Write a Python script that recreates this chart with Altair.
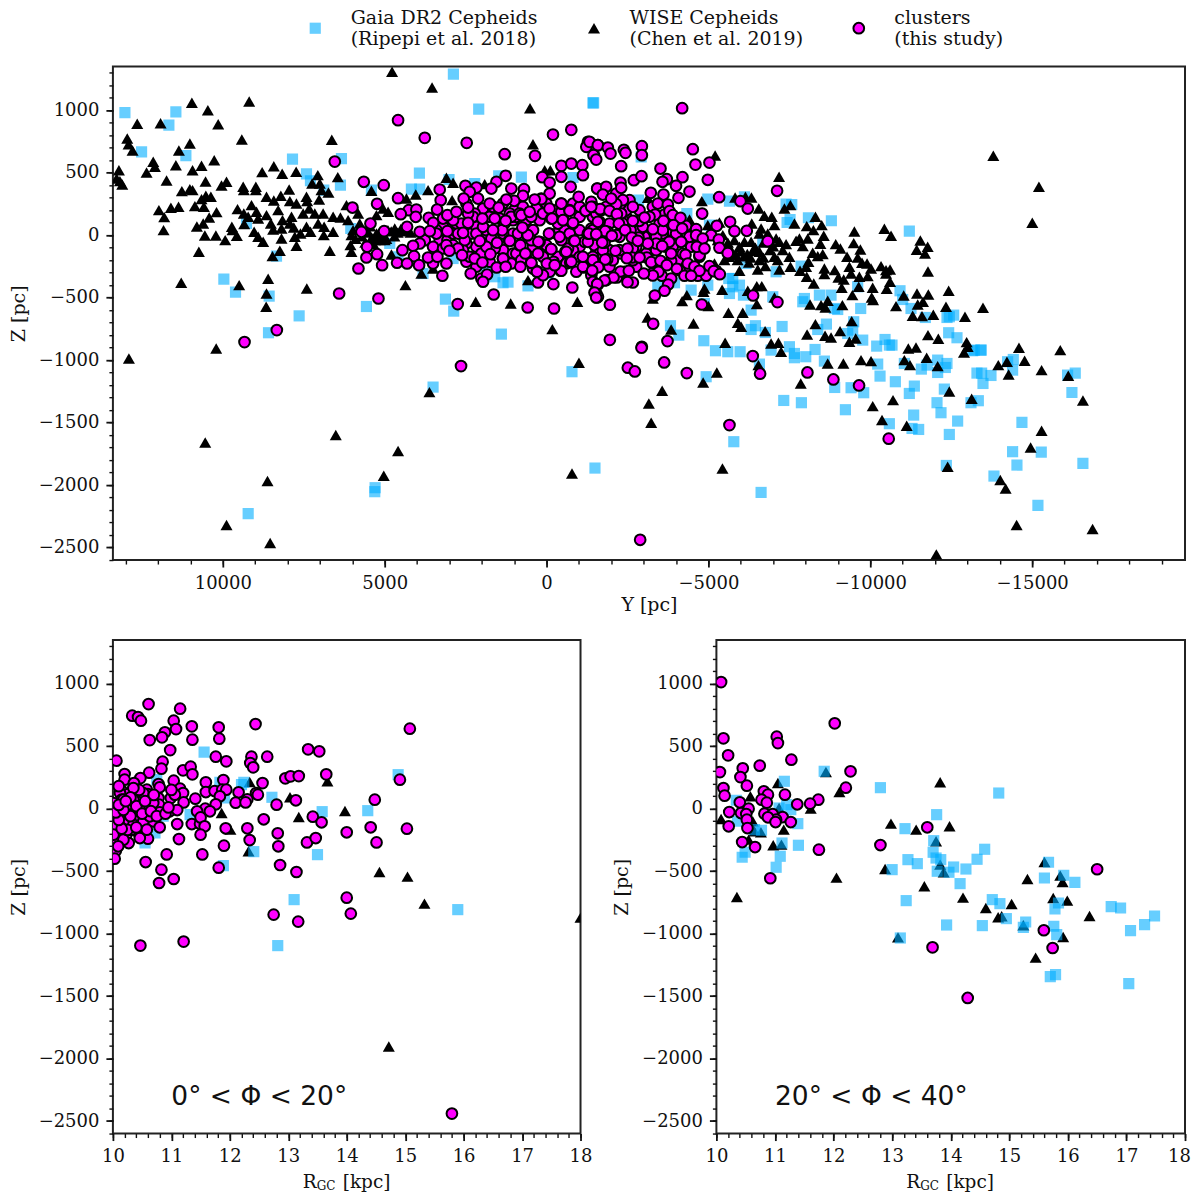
import altair as alt
import pandas as pd

# ---- top panel: (Y [pc], Z [pc]) ----
gaia_top = [(2878,1288),(2096,1008),(-1454,1059),(13024,981),(11450,987),(11666,880),(12510,667),(11141,637),(7848,608),(6336,613),(7416,491),(7293,435),(6367,400),(6881,360),(5410,360),(3928,496),(4175,368),(3918,368),(3012,445),(1479,475),(779,464),(-816,461),(2220,413),(9268,93),(6048,53),(4844,-67),(4587,-173),(8342,-168),(9968,-352),(9608,-456),(8569,-488),(7643,-646),(5564,-571),(3125,-512),(2868,-608),(1345,-381),(1191,-376),(1602,-333),(574,-406),(1860,-293),(-45,-307),(3815,-307),(2888,-187),(8589,-781),(1396,-792),(3506,-1216),(5296,-2021),(5307,-2053),(9217,-2229),(-785,-1093),(-1495,-1864),
(-1430,1059),(-2922,627),(-6112,307),(-4980,288),(-2840,280),(-5649,272),(-4332,173),(-7398,248),(-7573,245),(-7521,125),(-7429,101),(-8088,139),(-8797,115),(-11205,32),(-5031,80),(-6678,-53),(-7090,-293),(-7861,-248),(-6163,-227),(-5628,-347),(-5751,-347),(-5958,-400),(-5751,-413),(-4980,-400),(-5649,-467),(-4465,-440),(-6081,-480),(-3951,-381),(-3436,-413),(-4877,-547),(-6987,-493),(-7964,-507),(-7913,-533),(-8427,-480),(-8787,-480),(-8890,-587),(-8993,-595),(-9703,-587),(-9610,-413),(-10917,-445),(-10999,-515),(-11257,-587),(-11700,-659),(-12368,-659),(-12440,-653),(-12574,-640),(-6318,-600),(-6452,-725),(-6318,-755),(-6760,-779),(-7275,-731),(-3827,-725),(-4085,-800),(-4857,-845),(-8376,-755),(-8643,-712),(-9487,-693),(-9456,-760),(-9302,-787),(-9765,-840),(-10197,-888),(-10454,-835),(-10670,-880),(-10588,-880),(-12420,-781),(-12677,-821),(-13417,-920),(-13212,-920),(-5217,-925),(-5597,-933),(-5978,-933),(-7501,-893),(-8293,-915),(-7655,-947),
(-7655,-981),(-8005,-973),(-6935,-920),(-8581,-1008),(-6575,-1032),(-4929,-1133),(-7326,-1323),(-7871,-1341),(-8900,-1219),(-9405,-1221),(-9796,-1261),(-9230,-1397),(-10300,-1128),(-10228,-1032),(-10773,-1173),(-10588,-1509),(-11205,-1267),(-11360,-1208),(-11339,-1440),(-11288,-1547),(-11493,-1555),(-11576,-1072),(-11751,-1040),(-11051,-1027),(-12080,-1000),(-12080,-1099),(-12317,-1059),(-12368,-1027),(-12286,-1232),(-12060,-1341),(-12183,-1421),(-12697,-1488),(-12440,-1595),(-12348,-1843),(-13109,-1341),(-13336,-1325),(-13480,-1187),(-13294,-1104),(-13438,-1104),(-13727,-1123),(-13161,-925),(-13418,-920),(-14241,-1013),(-14395,-1080),(-14416,-995),(-14683,-1499),(-14395,-1733),(-14529,-1840),(-13819,-1928),(-15177,-2163),(-15280,-1736),(-16566,-1827),(-16227,-1259),(-16330,-1104),(-16093,-1120),(-5783,-1653),(-6626,-2059)]

wise_top = [(4772,1307),(3537,1181),(10956,1059),(10462,1000),(9186,1069),(12644,891),(11923,896),(10143,888),(512,1016),(420,728),(12952,773),(12911,728),(12788,677),(9413,765),(6634,763),(11018,733),(11357,677),(12150,587),(12098,547),(11450,560),(10658,555),(10266,600),(10935,520),(13210,520),(12355,501),(13281,453),(13179,432),(13106,405),(11738,437),(10534,429),(11265,352),(11018,368),(10935,360),(10040,397),(9886,427),(8785,504),(8425,552),(8167,491),(7735,507),(7066,480),(6449,464),(9371,387),(9350,360),(8980,387),(8980,360),(7951,365),(7005,413),(6953,360),(6737,341),(7241,413),(8651,307),(8208,315),(8425,277),(7930,272),(7726,253),(7416,307),(7396,272),(7025,285),(10524,315),(10369,307),(10658,288),(10863,232),(10586,227),(11368,227),(11604,219),(11975,200),(11810,144),(11831,40),(10194,184),(10421,141),(10802,69),(10606,93),(9721,67),(9701,40),(10555,-3),(10215,-3),(9927,-40),(9567,-5),(10740,-133),(11285,-381),(9495,-400),(8600,-349),(8651,-467),(8661,-573),(7406,-427),(4360,-400),(2189,-533),(1108,-547),(-950,-533),(574,-360),(9546,208),(9351,173),(9114,240),(8960,187),(9217,147),(8908,133),(9340,88),(8651,160),(8517,93),(8291,200),(8157,120),(7879,147),(7930,93),(7520,173),(7334,213),(7159,173),(6902,173),(6593,147),(6367,141),(6130,120),(8188,53),(7807,61),(8445,45),(7416,67),(7056,93),(6871,67),(6593,27),(9032,27),(8908,-13),(8754,-53),(8188,-27),(7776,-13),(7602,13),(7293,27),(6882,0),(7725,-85),(8239,-125),(8466,-168),(6696,-125),(6027,-133),(6058,-80),(6027,0),(5976,40),(5820,173),(6181,240),(5410,355),(5770,93),(5255,13),(5153,-40),(5000,-40),(5255,160),(5049,213),(4895,187),(4792,-155),(4690,53),(4329,293),(4041,325),(3660,360),(3094,459),(2888,419),(2919,280),(1911,408),(3506,-267),(3866,-307),(58,520),(-116,520),
(5500,20),(5400,-20),(5300,-40),(5200,10),(5100,0),(4950,-30),(4800,30),(4600,20),(4500,50),(4400,30),(4300,50),(4200,20),(5700,-10),(5900,-30),(5600,-60),(5450,70),(5350,-70),(4900,40),(4700,-10),
(-5500,-110),(-5600,-60),(-5700,-120),(-5800,-40),(-6000,-130),(-6200,-150),(-6300,-180),(-6450,-100),(-6700,-60),(-6900,-120),(-7000,-90),(-5900,-200),(-6100,-170),(-6250,-220),(-6700,-180),
(12901,-987),(10205,-907),(10544,-1659),(6511,-1600),(4587,-1728),(5029,-1925),(8620,-1968),(9886,-2320),(8538,-2464),(3619,-1256),(-1000,-1021),(-785,-1907),(-178,-752),
(-5206,637),(-13799,635),(-15208,387),(-15003,99),(-7182,467),(-3128,299),(-4795,272),(-5824,301),(-6143,307),(-6328,301),(-6554,213),(-7347,213),(-7532,240),(-6729,155),(-6956,147),(-7038,80),(-8304,147),(-8499,80),(-8036,72),(-7655,93),(-8242,40),(-8561,-5),(-8067,-27),(-7810,-27),(-7707,-45),(-7913,-88),(-8458,-69),(-8931,-72),(-9075,-107),(-9507,29),(-9487,-64),(-9693,-115),(-9281,-173),(-10434,51),(-10640,-5),(-11545,-43),(-11771,-93),(-11432,-117),(-11689,-147),(-11781,-291),(-8221,-141),(-8376,-168),(-8530,-152),(-9610,-179),(-9744,-221),(-9899,-227),(-10022,-267),(-10331,-248),(-10485,-280),(-10609,-275),(-10485,-307),(-9353,-253),(-9404,-307),(-9662,-333),(-9919,-328),(-8900,-280),(-9014,-339),(-9178,-355),(-8581,-267),(-8581,-312),(-8088,-213),(-8016,-253),(-7830,-285),(-8036,-333),(-7501,-173),(-7532,-253),(-7192,-275),(-7141,-200),(-7038,-173),(-6760,-248),(-6523,-275),(-6575,-200),(-6575,-133),(-6369,-125),(-6112,-53),(-6318,-53),(-6575,13),(-6626,53),(-6832,13),(-7090,-27),(-7192,-53),(-7398,-72),(-7295,-120),(-5958,-93),(-5855,-160),(-5649,-173),(-5494,-200),(-5186,-227),(-5289,-40),(-5443,0),(-5340,101),(-6338,93),(-4980,80),(-4414,125),(-5958,-285),(-5422,-437),(-4877,-427),(-4846,-453),(-4332,-480),(-4188,-528),(-3282,-507),(-5000,-568),(-6215,-445),(-6493,-408),(-6647,-408),(-6493,-552),(-5618,-621),(-6060,-621),(-7038,-499),(-4538,-707),(-3117,-659),(-3848,-755),(-5906,-701),(-6009,-733),(-6750,-768),(-5515,-861),(-8252,-387),(-8139,-555),(-8478,-560),(-8612,-579),(-8684,-525),(-9137,-560),(-9116,-421),(-9445,-480),(-9641,-413),(-10073,-421),(-10043,-499),(-10084,-520),(-10506,-429),(-10609,-373),(-10794,-568),(-11031,-483),(-11442,-467),(-11792,-475),(-12420,-445),(-11463,-555),(-11627,-533),(-12337,-573),(-13480,-581),(-11308,-645),(-11596,-648),(-11946,-637),(-12924,-653),(-9425,-688),(-8304,-712),(-9065,-768),(-8047,-795),(-8602,-805),(-8787,-819),(-9353,-853),(-9548,-827),(-6935,-867),(-7161,-861),(-11781,-800),(-12100,-829),(-12975,-856),(-13006,-893),
(-7244,-933),(-11174,-907),(-11411,-899),(-12893,-939),(-14591,-901),(-15867,-920),(-11740,-981),(-11051,-1000),(-11226,-1040),(-12080,-1048),(-9713,-1000),(-10022,-1008),(-8684,-1027),(-9168,-1027),(-13953,-1040),(-14220,-1013),(-14766,-1005),(-14272,-1115),(-15290,-1080),(-16114,-1125),(-16567,-1323),(-13130,-1309),(-12440,-1251),(-10701,-1320),(-10074,-1368),(-10361,-1480),(-11123,-1525),(-15290,-1565),(-14951,-1699),(-12389,-1853),(-14014,-1960),(-14179,-2027),(-14519,-2320),(-16865,-2352),(-12039,-2555),(-7851,-1187),(-5433,-1867),(-4836,-1179),(-5258,-1099),(-3570,-1245),(-3159,-1347),(-3231,-1501),(-6544,-1040)]

clusters_top = [(3300,-40),(3060,-40),(3763,-40),(2322,13),(1860,13),(1037,13),(418,40),(1037,120),(214,120),(418,-93),(-310,13),(-1021,40),(-1021,-93),(-1536,-40),(-1536,120),(-310,200),(1962,213),(2785,93),(3197,67),(2169,-93),(2477,-67),(1345,-120),(1037,-147),(1757,147),(316,213),(111,-173),(-816,-120),(-559,40),(2580,-120),(3506,-93),(832,227),(-816,253),(-1433,147),
(2632,93),(2220,173),(1860,40),(1448,133),(933,147),(625,120),(110,173),(-353,93),(-1022,147),(-1382,53),(3403,40),(3197,133),(2889,13),(2528,-40),(2168,67),(1705,-27),(1396,40),(882,13),(470,-40),(7,-80),(-456,-40),(-713,13),(-1176,-53),(-1536,-133),(3197,-107),(2889,-80),(2014,-147),(1602,-107),(1088,-227),(625,-187),(265,-147),(-353,-173),(-661,-107),(-1022,-173),(-1331,-240),(2477,-213),(2168,-253),(1757,-213),(933,-147),(418,-267),(-96,-293),(-610,-227),(-919,-293),(-1382,-320),(2477,253),(1654,227),(1000,200),(731,227),(8,253),(-456,187),(-1022,227),(-1382,267),
(-1430,147),(-1687,67),(-1893,-13),(-1481,-80),(-1636,-147),(-1944,-120),(-2356,40),(-2562,67),(-2768,-93),(-3025,-13),(-3282,-120),(-3488,-227),(-2768,-253),(-2305,-147),(-1944,-253),(-3797,40),(-4054,-200),(-4466,-93),(-4723,-173),(-3591,13),(-3848,147),(-2459,147),(-2871,200),(-2150,333),(-2562,280),(-3282,227),
(-1842,227),(-2459,200),(-1944,93),(-1430,40),(-1739,-120),(-2253,-13),(-2871,40),(-3385,-13),(-3694,-93),(-4105,-40),(-3488,93),(-4002,13),(-4414,-13),(-3076,-147),(-2665,-200),(-2047,-200),(-1430,-173),(-3385,-120),(-2562,-147),(-2973,67),(-2356,120),(-1533,173),
(3403,13),(2889,120),(2271,147),(2734,13),(2168,13),(1962,67),(3094,-80),(2734,-107),(2374,-173),(1860,-93),(1345,13),(1138,173),(1345,253),(1757,253),(2424,173),(3918,-67),(3506,-227),
(1297,93),(1091,147),(834,173),(473,147),(165,293),(-92,213),(-453,253),(-710,200),(-1204,195),(-1636,107),(-1687,200),(-2274,248),(-2305,173),(-2356,93),(-2871,115),(834,-80),(597,0),(216,-53),(-144,133),(-92,13),(-525,120),(-813,93),(-833,-45),(-401,-13),(-144,-112),(-576,-133),(648,-147),(1163,-45),(1369,40),(1348,-187),(782,-200),(473,-221),(298,-288),(-216,-213),(-730,-219),(-432,-285),(-1152,-259),(-1430,-280),(-1276,-53),(-1636,0),(-1893,27),(-1790,-61),(-1276,13),(-2150,0),(-2593,40),(-2840,-19),(-2253,-120),(-1873,-192),(-2665,-107),(-2644,-179),(-3097,-179),(-3385,-67),(-3591,40),(-3642,165),(-3951,115),(-4311,75),(-4620,48),(-3900,-88),(-4157,-53),(-4208,-147),(-4723,-160),(-5083,0),(-5320,-35),(-5031,-248),(-5238,-285),(-4671,-325),(-4414,-267),(-4929,-325),(-4105,-280),(-3848,-205),(-3539,-219),(-3262,-307),(-3560,-325),(-3848,-347),(-2408,-293),(-2665,-379),(-2171,-339),(-1842,-360),(-1585,-395),(-1554,-499),
(4587,920),(3763,779),(2467,739),(1294,648),(357,635),(-198,805),(-764,843),(-1279,747),(-1227,707),(-1587,720),(-1464,640),(-456,555),(-764,573),(-1104,560),(-1124,480),(-456,467),(131,464),(1263,475),(1549,427),(1705,373),(2508,395),(2168,381),(2374,347),(3300,365),(5029,400),(5646,427),(6542,589),(-95,421),(-744,387),(-1567,373),(1088,373),(697,368),(728,315),(-95,333),(162,288),(368,285),(-456,253),(-991,307),(1000,275),(1243,285),(2117,293),(2560,293),(3270,280),(4587,296),(5235,251),(5996,221),(4257,200),(4021,205),(4504,168),(4041,147),(5440,93),(5718,27),(5019,32),(4309,67),(5543,-93),(5564,-179),(5235,-152),(5080,-240),(5811,-267),(6407,-467),(5193,-507),(4453,-120),(4124,-85),(4093,-168),(4617,-221),(4309,-227),(3939,-240),(3660,-179),(3372,-173),(3094,-227),(3218,-325),(2343,-307),(2014,-347),(1838,-315),(1963,-373),(1633,-475),(2745,-552),(584,-579),(-230,-587),(-795,-419),(-210,-392),(265,-379),(111,-320),(296,-293),(-456,-285),(-765,-213),(-1124,-253),(-1433,-373),(-1567,-392),(-1537,-467),(-1587,-493),(8332,-760),(9330,-856),(2642,-1048),
(3382,205),(3064,160),(2785,187),(2424,221),(1983,133),(1603,133),(1478,221),(1263,115),(780,160),(523,187),(-168,133),(-508,120),(-712,195),(-1206,195),(-1433,227),(3640,139),(3503,99),(3918,27),(3609,32),(3064,32),(2580,19),(2424,99),(1654,40),(2065,-46),(1530,-61),(1138,-46),(809,-80),(583,0),(748,61),(254,-53),(-75,13),(-143,-112),(-610,-133),(-867,-46),(-816,99),(-1309,13),(3002,-125),(2611,-160),(2220,-187),(1736,-152),(1345,-187),(1983,-219),(1540,-259),(1263,-253),(809,-253),(470,-221),(655,-147),(-8,-227),(-250,-240),(-1124,-173),(-1433,-200),
(-4188,1016),(-1327,747),(-1584,720),(-1893,701),(-1975,653),(-2387,683),(-2438,659),(-2943,712),(-2943,640),(-1450,640),(-1533,605),(-2305,552),(-4517,688),(-4599,565),(-5031,581),(-3519,533),(-2696,440),(-2932,472),(-3714,448),(-3581,427),(-4198,464),(-4980,443),(-2284,421),(-2305,379),(-1564,373),(-1841,387),(-1739,325),(-3999,395),(-4414,349),(-4074,299),(-3611,325),(-3220,339),(-5330,304),(-7120,355),(-5988,272),(-6215,213),(-3436,253),(-3745,245),(-3797,192),(-3900,160),(-4805,173),(-4136,139),(-3354,165),(-3179,147),(-3025,141),(-2665,227),(-2356,280),(-2150,248),(-1996,293),(-1656,208),(-1378,227),(-1944,195),(-2171,168),(-2665,115),(-2233,93),(-3611,115),(-3920,80),(-4188,53),(-3282,48),(-2428,40),(-1584,107),(-1811,32),(-2016,-5),(-2634,-19),(-1533,8),(-5258,75),(-5669,107),(-5803,32),(-6184,35),(-4620,0),(-4826,-27),(-6832,-48),(-5340,-101),(-5597,-144),(-4640,-93),(-4877,-107),(-4290,-157),(-3848,-147),(-3786,-53),(-3570,-88),(-3128,-67),(-2819,-45),(-2500,-107),(-2130,-125),(-1718,-59),(-2871,-179),(-2480,-184),(-1811,-195),(-3231,-216),(-3519,-205),(-3714,-240),(-4023,-269),(-4362,-227),(-4568,-251),(-4723,-285),(-5165,-288),(-5350,-312),(-4260,-325),(-4465,-325),(-3457,-293),(-3282,-323),(-3004,-307),(-2284,-291),(-2541,-285),(-1595,-256),(-1409,-283),(-2068,-339),(-1790,-363),(-1564,-392),(-2500,-376),(-3755,-395),(-3642,-445),(-3344,-483),(-1481,-459),(-1533,-499),(-1955,-557),(-4795,-555),(-6379,-483),(-7131,-536),(-3292,-709),(-1955,-838),(-3735,-848),(-2943,-894),
(-2510,-1061),(-2726,-1091),(-2932,-901),(-3632,-1019),(-4332,-1104),(-6369,-968),(-6595,-1109),(-8057,-1099),(-8859,-1155),(-9652,-1203),(-10568,-1629),(-5649,-1520),(-2891,-2438)]

# ---- lower left: (RGC [kpc], Z [pc]) ----
gaia_left = [(11.56,453),(10.75,232),(12.24,211),(11.83,211),(12.2,192),(11.91,85),(12.72,91),(13.58,-24),(14.36,-16),(14.88,272),(12.41,-344),(13.5,-368),(11.89,-456),(10.55,-275),(10.72,-195),(10.86,-61),(11.32,-48),(15.9,-808),(12.82,-1096),(13.1,-728)]
wise_left = [(12.34,213),(13.03,91),(13.67,219),(11.86,-35),(12.01,-168),(13.18,-67),(13.97,-19),(14.56,-507),(12.32,-341),(15.33,-760),(15.04,-544),(14.72,-1904),(18.0,-872)]
clusters_left = [(10.61,837),(11.15,800),(10.33,744),(10.43,733),(10.48,704),(11.04,704),(10.89,611),(11.08,637),(11.35,659),(11.81,651),(12.44,677),(10.84,571),(10.63,549),(11.36,552),(11.82,560),(10.98,469),(10.06,384),(11.76,416),(11.94,379),(12.37,416),(12.35,365),(12.40,331),(12.64,416),(13.34,475),(13.53,459),(10.85,376),(10.83,320),(10.62,288),(11.2,307),(11.33,336),(11.36,275),(10.2,277),(10.2,232),(10.47,245),(10.36,205),(11.04,224),(10.78,197),(10.8,171),(10.58,152),(10.15,144),(11.15,160),(11.59,211),(11.59,133),(11.74,141),(11.89,229),(11.87,152),(11.94,152),(11.83,99),(12.15,131),(12.56,205),(12.45,125),(12.48,112),(12.3,75),(12.10,48),(12.27,50),(11.76,35),(12.8,32),(12.95,243),(13.04,259),(13.18,261),(13.65,275),(13.13,67),(14.48,72),(14.91,232),(11.2,125),(10.99,85),(11.06,112),(11.21,50),(11.41,80),(10.6,117),(10.26,117),(10.12,125),(10.46,85),(10.78,85),(10.15,72),(10.79,32),(10.63,5),(10.29,19),(10.06,19),(10.97,-21),(11.1,-11),(11.58,0),(11.44,-21),(11.66,-21),(10.8,-30),(10.55,-21),(10.2,-48),(10.02,-61),(10.43,-93),(10.69,-101),(11.1,-123),(11.35,-123),(11.49,-120),(11.5,-70),(11.57,-141),(11.93,-157),(12.3,-157),(12.58,-85),(13.42,-64),(13.57,-109),(10.26,-128),(10.8,-149),(10.09,-208),(10.23,-208),(10.44,-195),(10.6,-240),(10.27,-275),(10.05,-261),(11.13,-243),(11.5,-208),(12.82,-197),(12.83,-301),(12.34,-251),(11.9,-296),(13.32,-270),(13.47,-235),(14.0,-189),(14.41,-149),(14.51,-270),(10.05,-336),(10.03,-400),(10.92,-366),(11.53,-366),(10.56,-427),(10.83,-488),(10.79,-595),(11.04,-563),(11.81,-472),(12.86,-451),(13.14,-507),(10.47,-1096),(11.21,-1064),(12.75,-848),(13.17,-904),(14.0,-712),(14.07,-840),(15.8,-2440),(15.08,640),(15.03,-160),
(10.01,45),(10.35,72),(10.52,125),(10.69,45),(10.35,-21),(10.12,-101),(10.01,-141),(10.52,-101),(10.32,-168),(10.18,-248),(10.46,-235),(10.09,-301),(10.01,-208),(10.63,-61),(10.46,-8),(10.12,-21),(10.26,-88),(10.01,-21),(10.35,-128),(10.18,72),(10.58,-168),
(10.1,180),(10.15,-30),(10.25,30),(10.3,-60),(10.4,20),(10.45,150),(10.55,60),(10.5,-40),(10.65,-20),(10.7,110),(10.75,-60),(10.9,-40),(10.95,10),(11.0,150),(10.35,165),(10.25,-170),(10.4,-150),(10.15,-160),(10.1,-90),(10.05,-30),(10.18,-10),(10.1,30),(10.3,90),(10.22,60)]

# ---- lower right: (RGC [kpc], Z [pc]) ----
gaia_right = [(11.84,299),(11.16,219),(12.8,168),(14.82,125),(13.76,-48),(10.34,67),(11.07,5),(11.2,32),(11.27,-8),(11.39,-120),(10.36,-101),(10.65,-168),(10.77,-173),(11.12,-275),(11.4,-293),(10.49,-349),(10.44,-389),(11.09,-381),(11.02,-469),(13.22,-160),(13.71,-256),(13.7,-349),(13.75,-395),(13.83,-408),(13.27,-408),(13.43,-440),(13.0,-488),(13.77,-501),(13.97,-509),(14.05,-467),(14.26,-483),(14.45,-405),(14.58,-325),(14.16,-600),(13.24,-736),(14.71,-728),(14.84,-760),(13.93,-931),(14.54,-936),(14.95,-880),(13.14,-1035),(15.28,-907),(15.24,-950),(15.67,-429),(15.6,-555),(15.93,-533),(16.12,-590),(15.78,-803),(15.84,-755),(15.76,-941),(15.81,-1008),(16.74,-784),(16.9,-795),(17.48,-859),(17.31,-928),(17.07,-976),(15.7,-1344),(15.79,-1328),(17.04,-1400)]
wise_right = [(11.87,293),(13.82,211),(11.05,205),(10.58,99),(12.1,133),(11.61,0),(11.07,5),(10.08,-83),(10.62,-101),(10.65,-181),(10.76,-189),(11.15,-168),(10.55,-248),(10.97,-293),(11.11,-288),(12.98,-120),(13.41,-168),(13.98,-141),(13.75,-261),(12.88,-483),(12.05,-552),(10.35,-707),(13.82,-448),(13.88,-509),(13.55,-621),(14.21,-712),(14.6,-795),(15.04,-763),(14.81,-869),(14.87,-861),(15.31,-563),(15.6,-427),(15.87,-536),(15.91,-587),(15.75,-715),(15.99,-736),(16.37,-859),(15.24,-933),(15.92,-1027),(15.45,-1192),(13.1,-1030)]
clusters_right = [(10.08,1013),(12.02,683),(10.12,563),(11.03,576),(11.05,525),(10.2,427),(11.28,392),(10.06,293),(10.74,344),(10.45,323),(10.41,253),(12.29,299),(10.12,165),(10.14,104),(10.52,184),(12.21,168),(10.81,139),(10.88,112),(10.77,72),(10.86,48),(11.17,112),(11.74,72),(11.6,40),(11.38,35),(10.4,51),(10.55,0),(10.22,-27),(10.42,-35),(10.51,-43),(10.82,-40),(10.96,-43),(11.13,-67),(11.02,-88),(10.88,-69),(11.01,-107),(11.27,-107),(10.52,-88),(10.53,-155),(10.21,-141),(10.44,-267),(10.66,-307),(11.75,-328),(10.92,-557),(13.6,-149),(12.8,-291),(16.5,-485),(15.59,-973),(13.69,-1110),(15.74,-1115),(14.29,-1515)]

SERIES = ["Gaia DR2 Cepheids\n(Ripepi et al. 2018)", "WISE Cepheids\n(Chen et al. 2019)", "clusters\n(this study)"]
SHAPES = ["square", "triangle-up", "circle"]
FILLS = ["#00AEFF", "#000000", "#FF00FF"]
LINES = ["#00AEFF", "#000000", "#000000"]
OPAC = [0.6, 1.0, 1.0]
SIZES = [125, 145, 115]
STROKES = [0, 0, 2]

major_z = [-2500, -2000, -1500, -1000, -500, 0, 500, 1000]
minor_z = list(range(-2600, 1400, 100))
major_y = [10000, 5000, 0, -5000, -10000, -15000]
minor_y = list(range(13000, -20000, -1000))
major_r = list(range(10, 19))
minor_r = [v / 5 for v in range(50, 91)]
Z_DOM = [-2600, 1350]
FONT = "DejaVu Serif"


def frame(a, b, c, order):
    parts = {0: a, 1: b, 2: c}
    rows = []
    for i in order:
        rows += [{"x": p[0], "z": p[1], "series": SERIES[i]} for p in parts[i]]
    return pd.DataFrame(rows)


def axis(values, title, fmt, **kw):
    return alt.Axis(values=values, title=title, format=fmt, grid=False, domain=False,
                    tickSize=7, tickWidth=1.8, tickColor="#111", labelFont=FONT, labelFontSize=18,
                    labelColor="#111", titleFont=FONT, titleFontSize=19, titleFontWeight="normal",
                    titleColor="#111", labelOverlap=False, labelPadding=7, labelFlush=False, **kw)


def minor_axis(values, orient):
    return alt.Axis(values=values, title=None, labels=False, grid=False, domain=False, tickSize=4,
                    tickWidth=1.4, tickColor="#111", orient=orient)


def ord_scale(rng):
    return alt.Scale(type="ordinal", domain=SERIES, range=rng)


def panel(df, w, h, xdom, xvals, xfmt, xtitle, xminor, legend=None, note=None, note_x=None, xkw=None):
    xs = alt.Scale(domain=xdom, nice=False, zero=False)
    zs = alt.Scale(domain=Z_DOM, nice=False, zero=False)
    pts = alt.Chart(df).mark_point(filled=False, fillOpacity=1, clip=True).encode(
        x=alt.X("x:Q", scale=xs, axis=axis(xvals, xtitle, xfmt, orient="bottom", titlePadding=4, **(xkw or {}))),
        y=alt.Y("z:Q", scale=zs, axis=axis(major_z, "Z [pc]", "d", orient="left", titlePadding=10)),
        shape=alt.Shape("series:N", scale=ord_scale(SHAPES), legend=legend),
        fill=alt.Fill("series:N", scale=ord_scale(FILLS), legend=legend),
        stroke=alt.Stroke("series:N", scale=ord_scale(LINES), legend=legend),
        strokeWidth=alt.StrokeWidth("series:N", scale=ord_scale(STROKES), legend=legend),
        size=alt.Size("series:N", scale=ord_scale(SIZES), legend=legend),
        opacity=alt.Opacity("series:N", scale=ord_scale(OPAC), legend=legend),
    )
    layers = [pts]
    one = df.head(1)
    layers.append(alt.Chart(one).mark_point(opacity=0).encode(
        x=alt.X("x:Q", scale=xs, axis=minor_axis(xminor, "bottom")),
        y=alt.Y("z:Q", scale=zs, axis=minor_axis(minor_z, "left")),
    ))
    if note:
        ann = pd.DataFrame({"x": [note_x], "z": [-2304], "t": [note]})
        layers.append(alt.Chart(ann).mark_text(align="left", baseline="middle", font="DejaVu Sans", fontSize=26.5, color="#111").encode(
            x=alt.X("x:Q", scale=xs, axis=None), y=alt.Y("z:Q", scale=zs, axis=None), text="t:N"))
    if xtitle is None:
        for txt, px, sz, dy, al in [("R", 204, 18.5, 48, "right"), ("GC", 204, 12, 52, "left"), ("[kpc]", 230, 18.5, 48, "left")]:
            layers.append(alt.Chart(one).mark_text(text=txt, align=al, baseline="middle", font=FONT, fontSize=sz, color="#111").encode(
                x=alt.value(px), y=alt.value(h + dy)))
    return alt.layer(*layers).resolve_axis(x="independent", y="independent").properties(width=w, height=h)


main_legend = alt.Legend(
    orient="none", legendX=193, legendY=-48, direction="horizontal", columns=3, title=None,
    labelFont=FONT, labelFontSize=19, labelColor="#111", labelExpr="split(datum.label, '\\n')",
    labelBaseline="bottom", labelLimit=400, columnPadding=46, labelOffset=26, symbolOpacity=1,
)

top = panel(frame(gaia_top, wise_top, clusters_top, [0, 1, 2]), 1073, 494, [13395, -19720],
            major_y, "d", "Y [pc]", minor_y, legend=main_legend)
left = panel(frame(gaia_left, wise_left, clusters_left, [1, 0, 2]), 468, 494, [10, 18],
             major_r, "d", None, minor_r, note="0° < Φ < 20°", note_x=11.0)
right = panel(frame(gaia_right, wise_right, clusters_right, [1, 0, 2]), 469, 494, [10, 18],
              major_r, "d", None, minor_r, note="20° < Φ < 40°", note_x=11.0,
              xkw={"labelOffset": {"condition": {"test": "datum.value === 18", "value": -6}, "value": 0}})

chart = alt.vconcat(top, alt.hconcat(left, right, spacing=18), spacing=23).configure_view(
    stroke="#222", strokeWidth=2).properties(background="white", padding={"left": 0, "top": 10, "right": 0, "bottom": 0})

chart.save("out.html", embed_options={"renderer": "svg", "actions": False})
